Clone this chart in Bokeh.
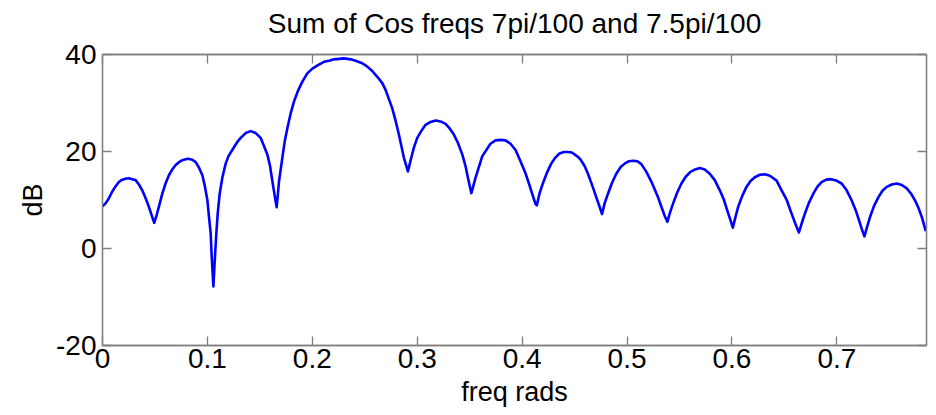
from bokeh.plotting import figure
from bokeh.models import Range1d, LinearAxis, FixedTicker
from bokeh.embed import file_html
from bokeh.resources import INLINE

# ---- data ----
freq = [0.0000, 0.0029, 0.0060, 0.0092, 0.0124, 0.0156, 0.0188, 0.0220, 0.0251,
        0.0283, 0.0315, 0.0347, 0.0379, 0.0410, 0.0442, 0.0468, 0.0493, 0.0516,
        0.0537, 0.0570, 0.0601, 0.0633, 0.0665, 0.0697, 0.0729, 0.0761, 0.0792,
        0.0818, 0.0856, 0.0888, 0.0919, 0.0952, 0.0977, 0.1000, 0.1015, 0.1031,
        0.1041, 0.1057, 0.1072, 0.1085, 0.1098, 0.1117, 0.1143, 0.1174, 0.1200,
        0.1222, 0.1286, 0.1317, 0.1365, 0.1413, 0.1460, 0.1508, 0.1540, 0.1571,
        0.1597, 0.1619, 0.1641, 0.1660, 0.1683, 0.1714, 0.1737, 0.1762, 0.1794,
        0.1825, 0.1863, 0.1905, 0.1952, 0.2000, 0.2054, 0.2111, 0.2159, 0.2206,
        0.2254, 0.2302, 0.2365, 0.2413, 0.2476, 0.2524, 0.2571, 0.2619, 0.2667,
        0.2698, 0.2762, 0.2794, 0.2825, 0.2873, 0.2911, 0.2943, 0.2968, 0.3000,
        0.3038, 0.3079, 0.3127, 0.3175, 0.3222, 0.3270, 0.3311, 0.3349, 0.3387,
        0.3429, 0.3460, 0.3483, 0.3516, 0.3556, 0.3619, 0.3698, 0.3746, 0.3794,
        0.3841, 0.3889, 0.3937, 0.3984, 0.4032, 0.4063, 0.4095, 0.4127, 0.4140,
        0.4165, 0.4197, 0.4236, 0.4277, 0.4315, 0.4356, 0.4398, 0.4436, 0.4474,
        0.4532, 0.4557, 0.4595, 0.4627, 0.4671, 0.4706, 0.4738, 0.4761, 0.4786,
        0.4818, 0.4856, 0.4897, 0.4939, 0.4977, 0.5018, 0.5057, 0.5098, 0.5136,
        0.5184, 0.5231, 0.5263, 0.5298, 0.5327, 0.5359, 0.5384, 0.5406, 0.5439,
        0.5477, 0.5518, 0.5559, 0.5604, 0.5649, 0.5693, 0.5740, 0.5788, 0.5836,
        0.5884, 0.5922, 0.5954, 0.5986, 0.6008, 0.6030, 0.6059, 0.6097, 0.6138,
        0.6177, 0.6218, 0.6266, 0.6313, 0.6361, 0.6425, 0.6473, 0.6520, 0.6568,
        0.6606, 0.6638, 0.6663, 0.6695, 0.6733, 0.6775, 0.6813, 0.6854, 0.6899,
        0.6943, 0.6995, 0.7045, 0.7093, 0.7141, 0.7179, 0.7211, 0.7236, 0.7262,
        0.7287, 0.7316, 0.7354, 0.7396, 0.7434, 0.7475, 0.7523, 0.7570, 0.7618,
        0.7666, 0.7707, 0.7745, 0.7777, 0.7809, 0.7847]
db = [8.7, 9.3, 10.3, 11.7, 12.8, 13.7, 14.2, 14.4, 14.5,
      14.3, 14.1, 13.2, 12.0, 10.4, 8.6, 6.9, 5.3, 6.9,
      8.6, 11.3, 13.4, 15.1, 16.3, 17.2, 17.8, 18.2, 18.4,
      18.5, 18.3, 17.8, 16.7, 15.1, 12.7, 9.9, 6.5, 3.1,
      -1.7, -7.8, -1.7, 3.1, 7.2, 11.3, 14.7, 17.5, 19.0,
      19.8, 22.0, 22.8, 23.8, 24.2, 23.8, 22.8, 21.1, 19.4,
      17.0, 13.9, 10.9, 8.5, 13.9, 18.7, 22.1, 24.8, 27.9,
      30.3, 32.5, 34.4, 36.1, 37.1, 37.8, 38.5, 38.7, 39.0,
      39.1, 39.2, 39.0, 38.7, 38.2, 37.5, 36.6, 35.4, 34.1,
      32.7, 28.9, 26.3, 23.5, 18.7, 15.9, 18.7, 20.8, 22.8,
      24.2, 25.5, 26.1, 26.4, 26.2, 25.7, 24.7, 23.5, 21.8,
      19.4, 17.0, 14.6, 11.4, 14.6, 19.0, 21.6, 22.3, 22.4,
      22.3, 21.6, 20.3, 18.0, 15.5, 13.5, 11.3, 9.2, 8.9,
      11.3, 13.4, 15.6, 17.5, 18.7, 19.6, 19.9, 19.9, 19.8,
      18.9, 18.3, 17.0, 15.4, 12.8, 10.6, 8.6, 7.1, 9.3,
      11.3, 13.5, 15.4, 16.8, 17.5, 18.0, 18.1, 18.0, 17.4,
      15.8, 13.8, 12.2, 10.4, 8.6, 6.7, 5.5, 7.2, 9.3,
      11.5, 13.4, 14.8, 15.8, 16.3, 16.6, 16.3, 15.4, 14.1,
      12.0, 10.1, 7.9, 5.8, 4.3, 6.2, 8.6, 10.8, 12.7,
      13.9, 14.7, 15.2, 15.3, 15.0, 14.0, 12.0, 10.1, 7.2,
      5.0, 3.3, 5.1, 7.2, 9.4, 11.3, 12.7, 13.7, 14.2,
      14.3, 14.0, 13.4, 12.0, 9.9, 7.9, 5.8, 4.1, 2.5,
      4.4, 6.5, 8.8, 10.6, 11.9, 12.7, 13.2, 13.4, 13.1,
      12.4, 11.3, 9.9, 8.4, 6.5, 3.6]

x_ticks = [0, 0.1, 0.2, 0.3, 0.4, 0.5, 0.6, 0.7]
x_tick_labels = ["0", "0.1", "0.2", "0.3", "0.4", "0.5", "0.6", "0.7"]
y_ticks = [-20, 0, 20, 40]
y_tick_labels = ["-20", "0", "20", "40"]
title_text = "Sum of Cos freqs 7pi/100 and 7.5pi/100"
x_label = "freq rads"
y_label = "dB"

FONT = "Liberation Sans"
AX = "#7f7f7f"

p = figure(width=936, height=415,
           x_range=Range1d(0, 0.7854), y_range=Range1d(-20, 40),
           output_backend="svg", toolbar_location=None,
           min_border_left=102, min_border_right=10,
           min_border_top=54, min_border_bottom=70)

p.line(freq, db, line_color="#0000ff", line_width=2.6, line_join="round")

p.xgrid.visible = False
p.ygrid.visible = False
p.outline_line_color = AX
p.outline_line_width = 1.3
p.background_fill_color = "white"
p.border_fill_color = "white"
p.title.visible = False


def style_axis(ax, ticks, labels, show_labels=True):
    ax.ticker = FixedTicker(ticks=ticks)
    if show_labels:
        ax.major_label_overrides = {t: l for t, l in zip(ticks, labels)}
    else:
        ax.major_label_overrides = {t: "" for t in ticks}
    ax.minor_tick_line_color = None
    ax.major_tick_in = 9
    ax.major_tick_out = 0
    ax.major_tick_line_color = AX
    ax.major_tick_line_width = 1.3
    ax.axis_line_color = AX
    ax.axis_line_width = 1.3
    ax.major_label_text_font = FONT
    ax.major_label_text_font_size = "28px"
    ax.major_label_text_color = "black"
    ax.axis_label_text_font = FONT
    ax.axis_label_text_font_size = "27px"
    ax.axis_label_text_font_style = "normal"
    ax.axis_label_text_color = "black"


xa = p.xaxis[0]
ya = p.yaxis[0]
style_axis(xa, x_ticks, x_tick_labels)
style_axis(ya, y_ticks, y_tick_labels)
xa.axis_label = x_label
ya.axis_label = y_label
xa.major_label_standoff = 3
xa.axis_label_standoff = 6
ya.major_label_standoff = 6
ya.axis_label_standoff = 5

# top axis: inside ticks only, carries the chart title centred over the frame
top = LinearAxis()
style_axis(top, x_ticks, x_tick_labels, show_labels=False)
top.major_label_standoff = 0
top.axis_label = title_text
top.axis_label_text_font_size = "28px"
top.axis_label_standoff = 16
p.add_layout(top, "above")

right = LinearAxis()
style_axis(right, y_ticks, y_tick_labels, show_labels=False)
p.add_layout(right, "right")

open("out.html", "w").write(file_html(p, INLINE))
